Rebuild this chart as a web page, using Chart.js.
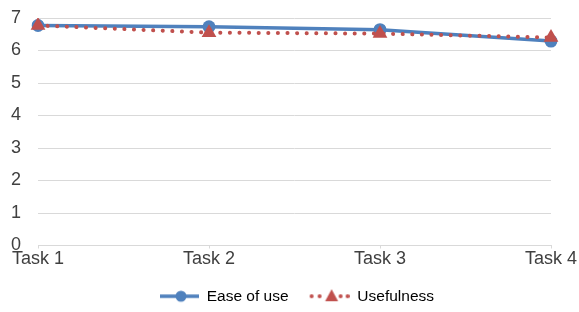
<!DOCTYPE html>
<html lang="en">
<head>
    <meta charset="UTF-8">
    <title>Task ratings</title>
    <script src="https://cdn.jsdelivr.net/npm/chart.js"></script>
    <style>
        html, body { margin: 0; padding: 0; background: #fff; }
        #wrap { width: 579px; height: 312px; }
    </style>
</head>
<body>
    <div id="wrap"><canvas id="myChart"></canvas></div>
    <script>
        var tasks = ['Task 1', 'Task 2', 'Task 3', 'Task 4'];
        var easeOfUse = [6.77, 6.73, 6.64, 6.29];
        var usefulness = [6.77, 6.55, 6.52, 6.40];
        var yTicks = [0, 1, 2, 3, 4, 5, 6, 7];

        var blue = '#4F81BD';
        var red = '#C0504D';
        var fontName = 'Liberation Sans, Arial, sans-serif';

        // legend symbols: line + marker (left part kept empty as item gap)
        function makeSymbol(kind) {
            var c = document.createElement('canvas');
            c.width = 55; c.height = 16;
            var g = c.getContext('2d');
            if (kind == 'ease') {
                g.strokeStyle = blue; g.lineWidth = 3.5;
                g.beginPath(); g.moveTo(16, 8); g.lineTo(55, 8); g.stroke();
                g.fillStyle = blue;
                g.beginPath(); g.arc(37, 8, 5.5, 0, Math.PI * 2); g.fill();
            } else {
                g.fillStyle = red;
                [17, 25, 46, 53].forEach(function (x) {
                    g.beginPath(); g.arc(x, 8, 2, 0, Math.PI * 2); g.fill();
                });
                g.beginPath(); g.moveTo(37, 1); g.lineTo(43.5, 13); g.lineTo(30.5, 13); g.closePath(); g.fill();
            }
            return c;
        }

        // nudge the legend a little right and down, like the original
        var legendShift = {
            id: 'legendShift',
            afterLayout: function (chart) {
                chart.legend.left += 8;
                chart.legend.right += 8;
                chart.legend.top += 2;
                chart.legend.bottom += 2;
            }
        };

        var ctx01 = document.getElementById('myChart');
        var chart01 = new Chart(ctx01, {
            type: 'line',
            data: {
                labels: tasks,
                datasets: [{
                    label: 'Ease of use',
                    data: easeOfUse,
                    borderColor: blue,
                    backgroundColor: blue,
                    borderWidth: 3.5,
                    pointStyle: 'circle',
                    pointRadius: 6.5,
                    pointBorderWidth: 0,
                    pointBorderColor: blue,
                    tension: 0,
                    order: 2
                }, {
                    label: 'Usefulness',
                    data: usefulness,
                    borderColor: red,
                    backgroundColor: red,
                    borderWidth: 4,
                    borderDash: [0.1, 9.5],
                    borderCapStyle: 'round',
                    pointStyle: 'triangle',
                    pointRadius: 8.5,
                    pointBorderWidth: 0,
                    pointBorderColor: red,
                    tension: 0,
                    order: 1
                }]
            },
            plugins: [legendShift],
            options: {
                responsive: true,
                maintainAspectRatio: false,
                animation: false,
                layout: { padding: { left: 11, right: 28, top: 18, bottom: 0 } },
                plugins: {
                    tooltip: { enabled: false },
                    legend: {
                        position: 'bottom',
                        labels: {
                            usePointStyle: true,
                            pointStyleWidth: 55,
                            color: '#404040',
                            font: { family: fontName, size: 15.5 },
                            padding: 6,
                            generateLabels: function (chart) {
                                return chart.data.datasets.map(function (ds, i) {
                                    return {
                                        text: ds.label,
                                        pointStyle: makeSymbol(i == 0 ? 'ease' : 'use'),
                                        fillStyle: ds.borderColor,
                                        strokeStyle: ds.borderColor,
                                        lineWidth: 0,
                                        hidden: false,
                                        datasetIndex: i
                                    };
                                });
                            }
                        }
                    }
                },
                scales: {
                    x: {
                        offset: false,
                        grid: { display: true, drawOnChartArea: false, color: '#d9d9d9', tickLength: 3 },
                        border: { color: '#d9d9d9', width: 1 },
                        ticks: {
                            color: '#404040',
                            font: { family: fontName, size: 18 },
                            padding: 0,
                            maxRotation: 0
                        },
                        afterFit: function (scale) {
                            scale.height = 35;
                            scale.paddingLeft = 0;
                            scale.paddingRight = 0;
                        }
                    },
                    y: {
                        min: 0,
                        max: 7,
                        afterBuildTicks: function (axis) {
                            axis.ticks = yTicks.map(function (v) { return { value: v }; });
                        },
                        grid: { color: '#d9d9d9', drawTicks: false },
                        border: { display: false },
                        ticks: {
                            color: '#404040',
                            font: { family: fontName, size: 18 },
                            padding: 17
                        },
                        afterFit: function (scale) {
                            scale.width = 27;
                            scale.paddingTop = 0;
                            scale.paddingBottom = 0;
                        }
                    }
                }
            }
        });
    </script>
</body>
</html>
